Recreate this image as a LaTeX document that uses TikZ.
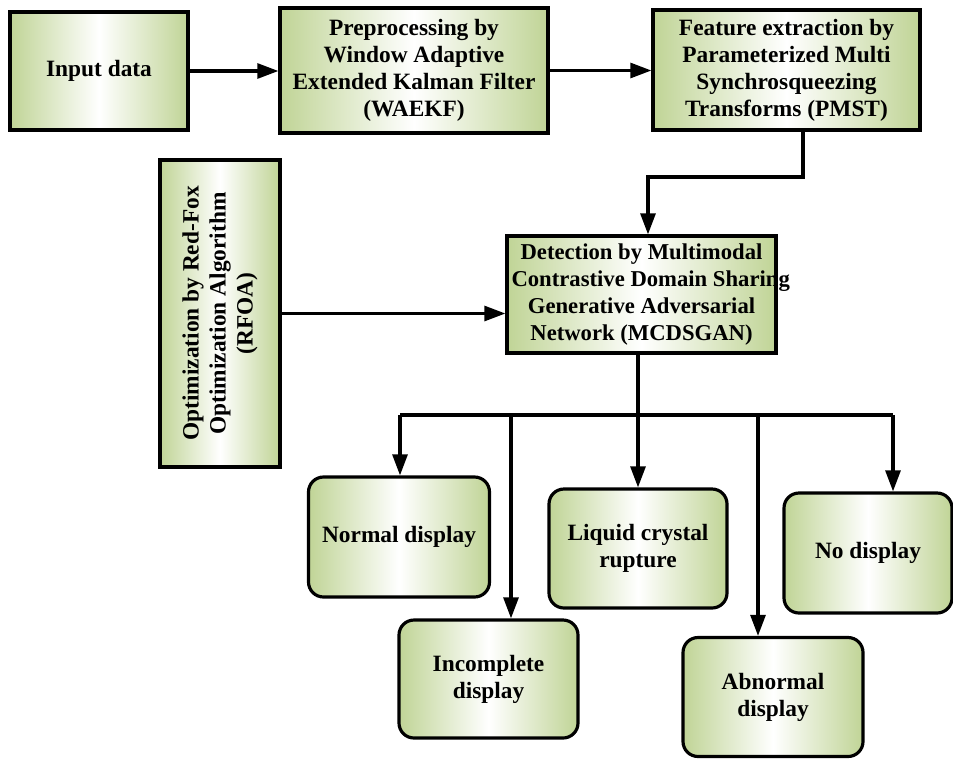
\documentclass[tikz,border=0pt]{standalone}
\usepackage{fontspec}
\setmainfont{Liberation Serif}
\usetikzlibrary{arrows.meta,calc}

\definecolor{boxgreen}{RGB}{192,212,150}

\tikzset{
  procbox/.style={draw, line width=1.8pt, align=center, font=\fontsize{13.3}{15.4}\selectfont\bfseries,
    left color=boxgreen, right color=boxgreen, middle color=white, inner sep=2pt},
  outbox/.style={procbox, rounded corners=0.3cm, minimum width=3.6cm, minimum height=2.38cm},
  arr/.style={line width=1.8pt, -{Triangle[length=12pt,width=8.5pt]}}
}

\begin{document}
\begin{tikzpicture}
\useasboundingbox (0,0) rectangle (19.06,-15.18);
% top row
\node[procbox, minimum width=3.56cm, minimum height=2.36cm] (input) at (1.98,-1.42) {Input data};
\node[procbox, minimum width=5.36cm, minimum height=2.5cm] (prep) at (8.28,-1.41)
  {Preprocessing by\\Window Adaptive\\Extended Kalman Filter\\(WAEKF)};
\node[procbox, minimum width=5.34cm, minimum height=2.4cm] (feat) at (15.73,-1.4)
  {Feature extraction by\\Parameterized Multi\\Synchrosqueezing\\Transforms (PMST)};
% optimizer and detector
\node[procbox, rotate=90, minimum width=6.14cm, minimum height=2.4cm] (rfoa) at (4.4,-6.27)
  {Optimization by Red-Fox\\Optimization Algorithm\\(RFOA)};
\node[procbox, font=\fontsize{12.9}{15.2}\selectfont\bfseries, inner xsep=0.09cm, minimum height=2.34cm] (mcd) at (12.83,-5.89)
  {Detection by Multimodal\\\makebox[5.2cm][l]{Contrastive Domain Sharing}\\Generative Adversarial\\Network (MCDSGAN)};
% outputs
\node[outbox, minimum width=3.62cm, minimum height=2.4cm] (normal) at (7.98,-10.74) {Normal display};
\node[outbox, minimum width=3.58cm, minimum height=2.36cm] (incomp) at (9.77,-13.58) {Incomplete\\display};
\node[outbox, minimum width=3.56cm] (liquid) at (12.76,-10.97) {Liquid crystal\\rupture};
\node[outbox, minimum width=3.36cm, minimum height=2.4cm] (nodisp) at (17.36,-11.06) {No display};
\node[outbox] (abnorm) at (15.46,-13.94) {Abnormal\\display};

% connectors
\draw[arr] (input) -- (input -| prep.west);
\draw[arr] (prep) -- (prep -| feat.west);
\coordinate (f1) at (16.06,-3.54);
\coordinate (f2) at (12.96,-3.54);
\draw[arr] (feat.south -| f1) -- (f1) -- (f2) -- (f2 |- mcd.north);
\draw[arr] (rfoa.south) -- (rfoa.south -| mcd.west);

\coordinate (split) at (12.76,-8.3);
\draw[line width=1.8pt] (mcd.south -| split) -- (split);
\draw[line width=1.8pt] (8.0,-8.3) -- (17.86,-8.3);
\foreach \tgt/\xx in {normal/8.0, incomp/10.22, liquid/12.76, abnorm/15.16, nodisp/17.86}{
  \coordinate (b-\tgt) at (\xx,-8.3);
  \draw[arr] (b-\tgt) -- (b-\tgt |- \tgt.north);
}
\end{tikzpicture}
\end{document}
